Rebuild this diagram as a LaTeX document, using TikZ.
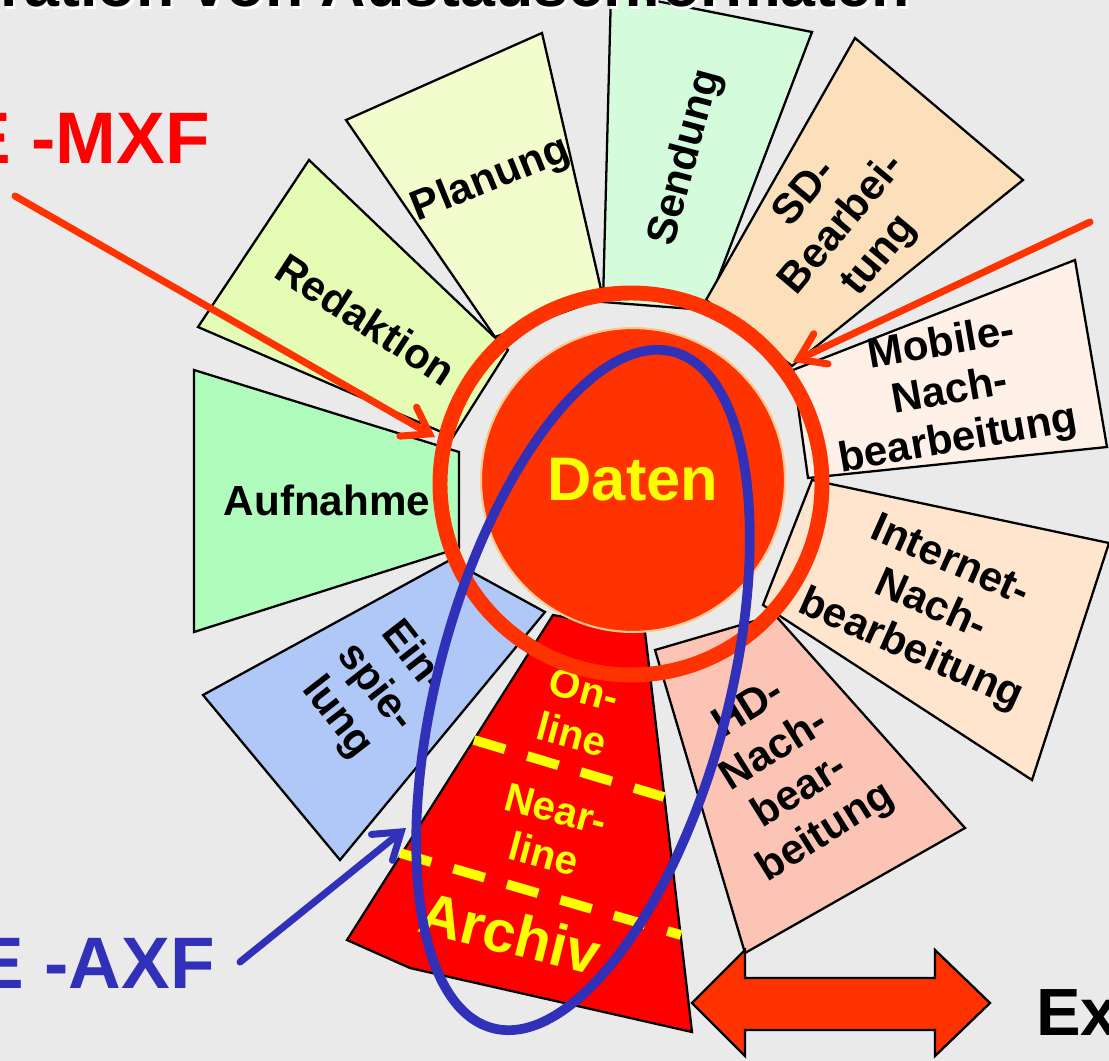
\documentclass[tikz,border=0pt]{standalone}
\usepackage{fontspec}
\setmainfont{Liberation Sans}
\usetikzlibrary{arrows.meta}

\definecolor{bg}{HTML}{EAEAEA}
\definecolor{cPlan}{HTML}{F2FCCC}
\definecolor{cSend}{HTML}{D4FCDC}
\definecolor{cSD}{HTML}{FCE0BC}
\definecolor{cMob}{HTML}{FFF0E8}
\definecolor{cInet}{HTML}{FFE4CE}
\definecolor{cHD}{HTML}{FCC4B4}
\definecolor{cArch}{HTML}{FF0000}
\definecolor{cEin}{HTML}{B0C8F8}
\definecolor{cAuf}{HTML}{B0FCBC}
\definecolor{cRed}{HTML}{E4FCB4}
\definecolor{cOrange}{HTML}{FF3300}
\definecolor{cPeach}{HTML}{FFC890}
\definecolor{cBlue}{HTML}{3030B8}
\definecolor{cYellow}{HTML}{FFFF00}
\definecolor{cMXF}{HTML}{FF0000}

\tikzset{
  seg/.style={draw=black, line width=1.3pt, line join=miter},
  lbl/.style={font=\bfseries\fontsize{24}{27.5}\selectfont, align=center, inner sep=0pt},
  ylbl/.style={lbl, font=\bfseries\fontsize{23}{26.5}\selectfont, text=cYellow},
  bigyellow/.style={font=\bfseries\fontsize{33.5}{38}\selectfont, text=cYellow, inner sep=0pt},
  ringline/.style={draw=cOrange, line width=8.5pt},
  tierline/.style={draw=cYellow, line width=5.5pt, dash pattern=on 18.5pt off 13.2pt},
  fmtarrow/.style={line width=4pt, line cap=round,
    -{Straight Barb[length=14pt, width=19pt, line cap=round]}},
  fmttext/.style={font=\bfseries\fontsize{41.5}{48}\selectfont, inner sep=0pt, anchor=base east}
}

\begin{document}
\begin{tikzpicture}[x=0.02cm, y=-0.02cm]
\useasboundingbox (0,0) rectangle (1109,1061);
\clip (0,0) rectangle (1109,1061);
\fill[bg] (0,0) rectangle (1109,1061);

% workflow segments around the central data pool
\filldraw[seg, fill=cPlan] (346,120) -- (542,33) -- (603,298) -- (495,337) -- cycle;
\filldraw[seg, fill=cSend] (611,-8) -- (812,32) -- (706,310) -- (603,302) -- cycle;
\filldraw[seg, fill=cSD] (855,38) -- (1023,180) -- (792,366) -- (706,300) -- cycle;
\filldraw[seg, fill=cMob] (793,370) -- (1075,260) -- (1107,447) -- (808,478) -- cycle;
\filldraw[seg, fill=cInet] (812,480) -- (1109,543) -- (1032,780) -- (763,605) -- cycle;
\filldraw[seg, fill=cHD] (655,650) -- (775,615) -- (965,828) -- (745,953) -- cycle;
\filldraw[seg, fill=cEin] (203,695) -- (450,560) -- (545,612) -- (340,860) -- cycle;
\filldraw[seg, fill=cAuf] (194,370) -- (459,452) -- (459,548) -- (194,632) -- cycle;
\filldraw[seg, fill=cRed] (309,160) -- (508,350) -- (453,437) -- (198,327) -- cycle;
\filldraw[seg, fill=cArch] (347,940) -- (410,968) -- (692,1032) -- (645,632) -- (553,615) -- cycle;

% storage tiers inside the archive
\draw[tierline] (474,740) -- (664,797);
\draw[tierline] (400,853) -- (681,935);

% segment labels
\node[lbl, rotate=22] (planung) at (491,180) {Planung};
\node[lbl, rotate=75] (sendung) at (686,158) {Sendung};
\node[lbl, rotate=50] (sd) at (843,225) {SD-\\Bearbei-\\tung};
\node[lbl, rotate=10] (mobile) at (950,393) {Mobile-\\Nach-\\bearbeitung};
\node[lbl, rotate=-24] (internet) at (930,607) {Internet-\\Nach-\\bearbeitung};
\node[lbl, rotate=32] (hd) at (788,772) {HD-\\Nach-\\bear-\\beitung};
\node[lbl, rotate=-52] (einsp) at (375,688) {Ein-\\spie-\\lung};
\node[lbl] (aufnahme) at (327,500) {Aufnahme};
\node[lbl, rotate=-33] (redaktion) at (366,319) {Redaktion};

\node[ylbl, rotate=-15] (online) at (578,712) {On-\\line};
\node[ylbl, rotate=-15] (nearline) at (550,832) {Near-\\line};
\node[bigyellow, rotate=-14] (archiv) at (510,933) {Archiv};

% central data pool
\node[circle, fill=cOrange, draw=cPeach, line width=1.2pt, minimum size=6.08cm,
      inner sep=0pt, text=cYellow, font=\bfseries\fontsize{35}{40}\selectfont]
      (daten) at (633,480) {Daten};
\draw[ringline] (631,484) circle [radius=191];

% exchange formats
\coordinate (mxfTail) at (15,196);
\coordinate (mxfTip) at (435,437);
\coordinate (rTail) at (1090,222);
\coordinate (rTip) at (793,362);
\coordinate (axfTail) at (240,962);
\coordinate (axfTip) at (406,828);

\draw[fmtarrow, draw=cOrange] (mxfTail) -- (mxfTip);
\draw[fmtarrow, draw=cOrange] (rTail) -- (rTip);

\draw[draw=cBlue, line width=5.5pt] (583,690) ellipse [x radius=350, y radius=145, rotate=75];
\draw[fmtarrow, draw=cBlue] (axfTail) -- (axfTip);

\node[fmttext, text=cMXF] (mxf) at (210,163) {E -MXF};
\node[fmttext, text=cBlue] (axf) at (215,988) {E -AXF};

% exchange with outside
\filldraw[fill=cOrange, draw=black, line width=1.3pt, line join=miter]
  (692,1003) -- (745,950) -- (745,978) -- (935,978) -- (935,950) -- (990,1003)
  -- (935,1056) -- (935,1030) -- (745,1030) -- (745,1056) -- cycle;
\node[anchor=base west, inner sep=0pt, font=\bfseries\fontsize{38}{44}\selectfont] (ex) at (1036,1035) {Ex};

% heading
\node[anchor=base west, inner sep=0pt, text=white, font=\bfseries\fontsize{35.7}{42}\selectfont] (titleshadow) at (2.5,9.5) {ration von Austauschformaten};
\node[anchor=base west, inner sep=0pt, font=\bfseries\fontsize{35.7}{42}\selectfont] (title) at (0,7) {ration von Austauschformaten};
\end{tikzpicture}
\end{document}
